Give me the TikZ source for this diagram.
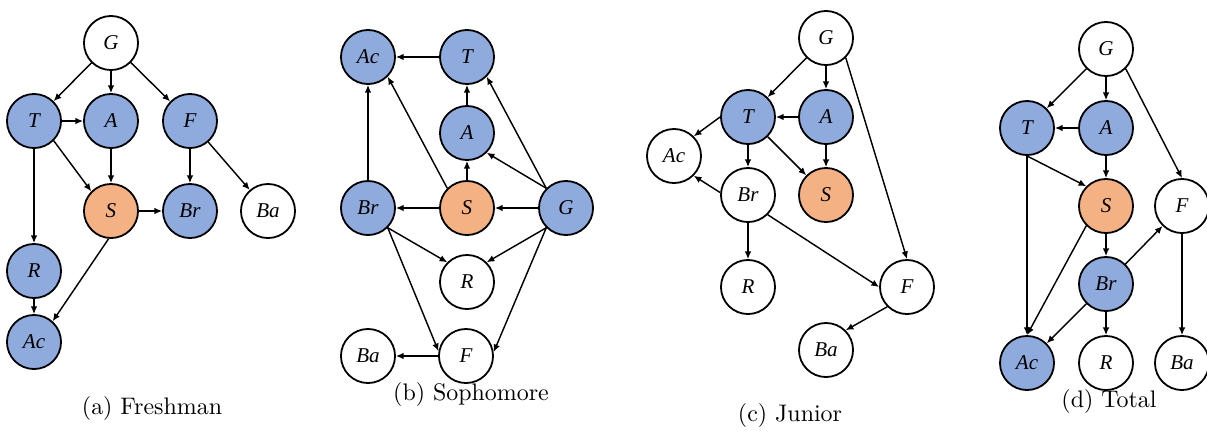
\documentclass[tikz,border=0pt]{standalone}
\usepackage{fontspec}
\newfontfamily\nodefont{Liberation Serif}
\usetikzlibrary{arrows.meta}
\definecolor{nblue}{HTML}{8FAADC}
\definecolor{norange}{HTML}{F4B183}
\begin{document}
\begin{tikzpicture}[x=0.418pt,y=-0.418pt,
  vnode/.style={circle,draw=black,line width=0.75pt,minimum size=22.6pt,inner sep=0pt,font=\nodefont\itshape\fontsize{8.8pt}{10pt}\selectfont},
  wn/.style={vnode,fill=white},
  bn/.style={vnode,fill=nblue},
  on/.style={vnode,fill=norange},
  edge/.style={-{Latex[length=3.2pt,width=2.8pt]},line width=0.6pt},
  captext/.style={font=\normalsize}]
\useasboundingbox (0,0) rectangle (1207,433);
% (a) Freshman
\node[wn] (aG) at (111,43) {G};
\node[bn] (aT) at (34,121) {T};
\node[bn] (aA) at (111,121) {A};
\node[bn] (aF) at (190,121) {F};
\node[on] (aS) at (111,211) {S};
\node[bn] (aBr) at (190,211) {Br};
\node[wn] (aBa) at (268,211) {Ba};
\node[bn] (aR) at (34,271) {R};
\node[bn] (aAc) at (34,342) {Ac};
\node[captext] (acap) at (152,409) {(a) Freshman};
\foreach \a/\b in {aG/aT,aG/aA,aG/aF,aT/aA,aT/aR,aA/aS,aF/aBr,aF/aBa,aS/aBr,aR/aAc}
  \draw[edge] (\a) -- (\b);
\draw[edge] (aT.-45) -- (aS.135);
\draw[edge] (aS.-95) -- (aAc.48);
% (b) Sophomore
\node[bn] (bAc) at (368,57) {Ac};
\node[bn] (bT) at (467,57) {T};
\node[bn] (bA) at (467,133) {A};
\node[bn] (bBr) at (368,208) {Br};
\node[on] (bS) at (467,208) {S};
\node[bn] (bG) at (566,208) {G};
\node[wn] (bR) at (467,282) {R};
\node[wn] (bBa) at (368,356) {Ba};
\node[wn] (bF) at (466,356) {F};
\node[captext] (bcap) at (471,395) {(b) Sophomore};
\foreach \a/\b in {bT/bAc,bA/bT,bS/bA,bBr/bAc,bS/bBr,bG/bS,bF/bBa}
  \draw[edge] (\a) -- (\b);
\draw[edge] (bS.135) -- (bAc.-45);
\draw[edge] (bG.135) -- (bA.-45);
\draw[edge] (bG.135) -- (bT.-45);
\draw[edge] (bG.-135) -- (bR.45);
\draw[edge] (bG.-135) -- (bF.8);
\draw[edge] (bBr.-45) -- (bR.135);
\draw[edge] (bBr.-45) -- (bF.170);
% (c) Junior
\node[wn] (cG) at (826,38) {G};
\node[bn] (cT) at (748,117) {T};
\node[bn] (cA) at (826,117) {A};
\node[wn] (cAc) at (674,156) {Ac};
\node[wn] (cBr) at (748,195) {Br};
\node[on] (cS) at (826,195) {S};
\node[wn] (cR) at (748,287) {R};
\node[wn] (cF) at (907,287) {F};
\node[wn] (cBa) at (826,350) {Ba};
\node[captext] (ccap) at (790,416) {(c) Junior};
\foreach \a/\b in {cG/cT,cG/cA,cA/cT,cA/cS,cT/cS,cT/cBr,cBr/cR}
  \draw[edge] (\a) -- (\b);
\draw[edge] (cG.-45) -- (cF.north);
\draw[edge] (cT.west) -- (cAc.45);
\draw[edge] (cBr.175) -- (cAc.-45);
\draw[edge] (cBr.-45) -- (cF.west);
\draw[edge] (cF.-135) -- (cBa.45);
% (d) Total
\node[wn] (dG) at (1106,49) {G};
\node[bn] (dT) at (1027,128) {T};
\node[bn] (dA) at (1106,128) {A};
\node[on] (dS) at (1106,206) {S};
\node[wn] (dF) at (1182,206) {F};
\node[bn] (dBr) at (1106,284) {Br};
\node[bn] (dAc) at (1027,363) {Ac};
\node[wn] (dR) at (1106,363) {R};
\node[wn] (dBa) at (1182,363) {Ba};
\node[captext] (dcap) at (1109,402) {(d) Total};
\foreach \a/\b in {dG/dT,dG/dA,dA/dT,dA/dS,dT/dAc,dS/dBr,dBr/dF,dBr/dAc,dBr/dR,dF/dBa}
  \draw[edge] (\a) -- (\b);
\draw[edge] (dG.-45) -- (dF.north);
\draw[edge] (dT.south) -- (dS.135);
\draw[edge] (dS.-135) -- (dAc.north);
\end{tikzpicture}
\end{document}
